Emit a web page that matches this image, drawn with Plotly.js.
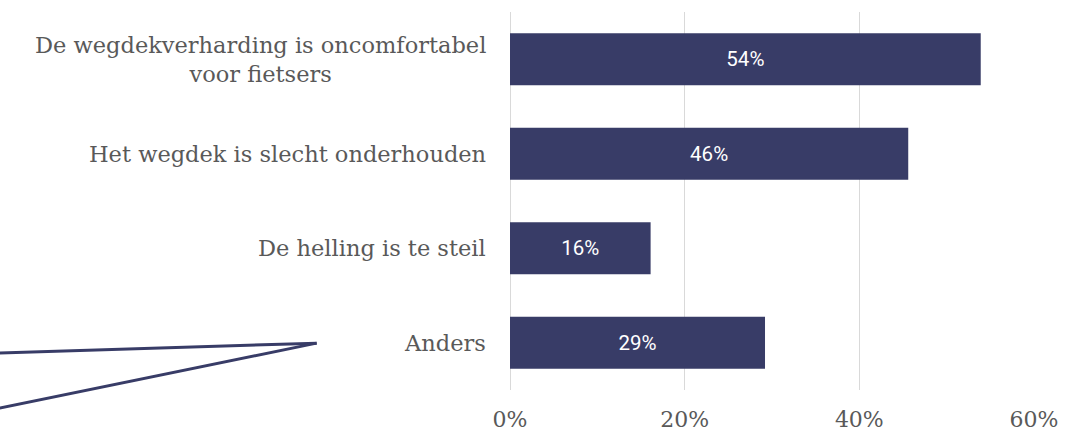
<!DOCTYPE html>
<html>
<head>
<meta charset="utf-8">
<script src="https://cdn.plot.ly/plotly-3.0.1.min.js"></script>
<style>html,body{margin:0;padding:0;background:#fff;}#chart{width:1066px;height:433px;}</style>
</head>
<body>
<div id="chart"></div>
<script>
const categories = [
  "De wegdekverharding is oncomfortabel<br>voor fietsers",
  "Het wegdek is slecht onderhouden",
  "De helling is te steil",
  "Anders"
];
const values = [53.9, 45.6, 16.1, 29.2];
const tickValues = [0, 20, 40, 60];
const tickLabels = ["0%", "20%", "40%", "60%"];

const serif = "DejaVu Serif, serif";
const gray = "#595959";
const navy = "#383c67";

const trace = {
  type: "bar",
  orientation: "h",
  x: values,
  y: categories,
  marker: {color: navy},
  text: values.map(v => Math.round(v) + "%"),
  textposition: "inside",
  insidetextanchor: "middle",
  textfont: {family: "Roboto, sans-serif", size: 20.5, color: "#ffffff"},
  hoverinfo: "none"
};

const annotations = categories.map(c => ({
  xref: "paper", yref: "y", x: 0, y: c,
  xanchor: "right", yanchor: "middle", xshift: -22,
  text: c, showarrow: false, align: "center",
  font: {family: serif, size: 22.5, color: gray}
}));

const line = {color: navy, width: 3};
const shapes = [
  {type: "line", xref: "paper", yref: "paper", x0: -0.975, y0: 0.098, x1: -0.369, y1: 0.124, line: line},
  {type: "line", xref: "paper", yref: "paper", x0: -0.975, y0: -0.048, x1: -0.369, y1: 0.124, line: line}
];

const layout = {
  width: 1066, height: 433,
  margin: {l: 510, r: 32, t: 12, b: 43},
  paper_bgcolor: "#fff", plot_bgcolor: "#fff",
  showlegend: false,
  bargap: 0.45,
  xaxis: {
    range: [0, 60], tickvals: tickValues, ticktext: tickLabels,
    showgrid: true, gridcolor: "#d9d9d9", gridwidth: 1,
    zeroline: true, zerolinecolor: "#d9d9d9", zerolinewidth: 1,
    showline: false, ticks: "", ticklabelstandoff: 14,
    tickfont: {family: serif, size: 22, color: gray}, fixedrange: true
  },
  yaxis: {
    autorange: "reversed", showticklabels: false, showgrid: false,
    zeroline: false, showline: false, ticks: "", fixedrange: true
  },
  annotations: annotations,
  shapes: shapes
};

Plotly.newPlot("chart", [trace], layout, {displayModeBar: false, staticPlot: true});
</script>
</body>
</html>
